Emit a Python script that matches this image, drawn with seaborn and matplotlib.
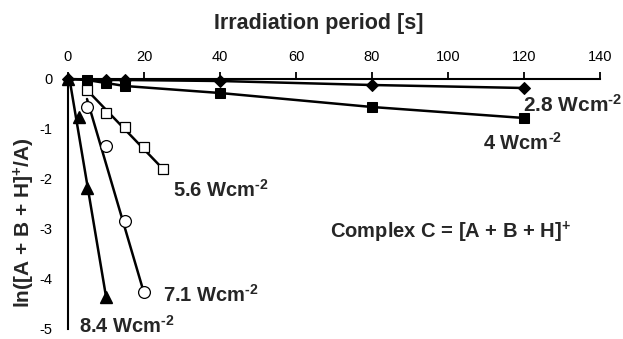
import matplotlib
matplotlib.use("Agg")
import matplotlib.pyplot as plt
import seaborn as sns

# ---- data ----
t_28 = [0, 10, 15, 40, 80, 120]
y_28 = [0, -0.02, -0.02, -0.04, -0.12, -0.18]

t_40 = [0, 5, 10, 15, 40, 80, 120]
y_40 = [0, -0.02, -0.08, -0.14, -0.28, -0.56, -0.78]

t_56 = [5, 10, 15, 20, 25]
y_56 = [-0.22, -0.67, -0.95, -1.36, -1.80]
fit_t_56 = [5, 25]
fit_y_56 = [-0.22, -1.80]

t_71 = [5, 10, 15, 20]
y_71 = [-0.55, -1.33, -2.83, -4.25]
fit_t_71 = [5, 20]
fit_y_71 = [-0.40, -4.28]

t_84 = [0, 3, 5, 10]
y_84 = [0, -0.75, -2.17, -4.35]
fit_t_84 = [0.4, 10]
fit_y_84 = [0.0, -4.35]

HY = "\u2010"
labels = ["2.8 Wcm$^{" + HY + "2}$", "4 Wcm$^{" + HY + "2}$", "5.6 Wcm$^{" + HY + "2}$",
          "7.1 Wcm$^{" + HY + "2}$", "8.4 Wcm$^{" + HY + "2}$"]
label_pos = [(119.7, -0.51), (109.2, -1.28), (27.6, -2.22), (25.0, -4.32), (2.9, -4.94)]
label_size = [15, 14.5, 14.5, 14.5, 14.5]

x_ticks = [0, 20, 40, 60, 80, 100, 120, 140]
y_ticks = [0, -1, -2, -3, -4, -5]

# ---- style ----
sns.set_style("white")
plt.rcParams["font.family"] = ["Liberation Sans", "DejaVu Sans"]
plt.rcParams["mathtext.fontset"] = "custom"
plt.rcParams["mathtext.rm"] = "Liberation Sans:bold"
plt.rcParams["mathtext.bf"] = "Liberation Sans:bold"
plt.rcParams["mathtext.it"] = "Liberation Sans:bold"
plt.rcParams["mathtext.sf"] = "Liberation Sans:bold"
plt.rcParams["mathtext.default"] = "rm"
plt.rcParams["axes.unicode_minus"] = False

fig = plt.figure(figsize=(6.23, 3.39), dpi=100)
ax = fig.add_axes([68 / 623, 1 - 329 / 339, (600 - 68) / 623, (329 - 79) / 339])

lw = 1.8
sns.lineplot(x=t_28, y=y_28, ax=ax, color="black", lw=lw, marker="D", markersize=6,
             markeredgecolor="black", markerfacecolor="black", clip_on=False, sort=False)
sns.lineplot(x=t_40[1:], y=y_40[1:], ax=ax, color="black", lw=0, marker="s", markersize=7.5,
             markeredgecolor="black", markerfacecolor="black", clip_on=False, sort=False)
sns.lineplot(x=t_40, y=y_40, ax=ax, color="black", lw=lw, clip_on=False, sort=False)

for ft, fy in [(fit_t_56, fit_y_56), (fit_t_71, fit_y_71), (fit_t_84, fit_y_84)]:
    sns.lineplot(x=ft, y=fy, ax=ax, color="black", lw=lw, clip_on=False, sort=False)

ax.plot(t_56, y_56, ls="none", marker="s", markersize=6.5, markerfacecolor="white",
        markeredgecolor="black", markeredgewidth=0.9, clip_on=False, zorder=4)
ax.plot(t_71, y_71, ls="none", marker="o", markersize=8.5, markerfacecolor="white",
        markeredgecolor="black", markeredgewidth=0.9, clip_on=False, zorder=4)
ax.plot(t_84, y_84, ls="none", marker="^", markersize=8, markerfacecolor="black",
        markeredgecolor="black", clip_on=False, zorder=4)

for txt, (xx, yy), fs in zip(labels, label_pos, label_size):
    ax.text(xx, yy, txt, ha="left", va="center", fontsize=fs, fontweight="bold")
ax.text(69, -3.06, "Complex C = [A + B + H]$^{+}$", ha="left", va="center",
        fontsize=14.5, fontweight="bold")

ax.set_xlim(0, 140)
ax.set_ylim(-5, 0)
ax.set_xticks(x_ticks)
ax.set_yticks(y_ticks)
ax.set_xticklabels([str(v) for v in x_ticks])
ax.set_yticklabels([str(v) for v in y_ticks])
ax.xaxis.tick_top()
ax.xaxis.set_label_position("top")
ax.tick_params(axis="both", direction="out", length=5, width=1.3, labelsize=10.5,
               color="black", labelcolor="black")
ax.tick_params(axis="x", pad=6)
ax.tick_params(axis="y", pad=6)
for s in ["bottom", "right"]:
    ax.spines[s].set_visible(False)
for s in ["top", "left"]:
    ax.spines[s].set_visible(True)
    ax.spines[s].set_color("black")
    ax.spines[s].set_linewidth(1.5)
ax.set_xlabel("Irradiation period [s]", fontsize=15.5, fontweight="bold")
ax.set_ylabel("ln([A + B + H]$^{+}$/A)", fontsize=15, fontweight="bold")
ax.xaxis.set_label_coords(0.472, 1.198)
ax.yaxis.set_label_coords(-0.058, 0.424)
ax.grid(False)
legend = ax.get_legend()
if legend:
    legend.remove()

fig.savefig("out.png", dpi=100)
